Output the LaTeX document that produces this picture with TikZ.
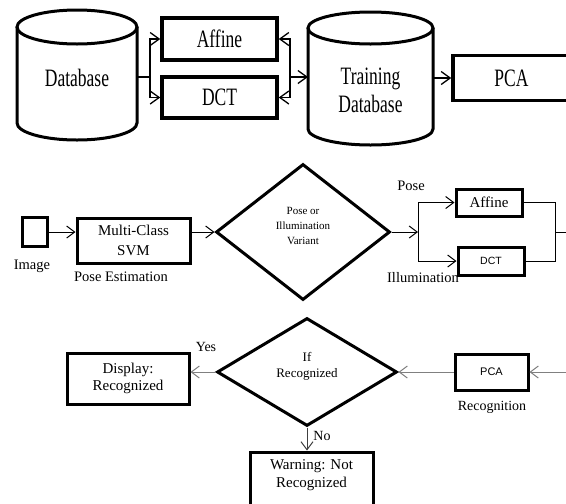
\documentclass[tikz,border=0pt]{standalone}
\usepackage{fontspec}
\setmainfont{Liberation Serif}
\newfontfamily\condf[FakeStretch=0.7]{Liberation Serif}
\newfontfamily\arialf{Liberation Sans}
\usetikzlibrary{arrows.meta,shapes.geometric}
\begin{document}
\begin{tikzpicture}[x=1pt,y=-1pt,
  bigtxt/.style={font=\condf\fontsize{25}{28}\selectfont, align=center, inner sep=0pt},
  bigbox/.style={draw, line width=3.5pt, inner sep=0pt, bigtxt},
  cyl/.style={line width=3pt},
  midbox/.style={draw, line width=3pt, inner sep=0pt, align=center, font=\fontsize{15}{20}\selectfont},
  dia/.style={draw, diamond, line width=3pt, inner sep=0pt},
  lbl/.style={inner sep=0pt, align=center, font=\fontsize{14.5}{17}\selectfont},
  plain/.style={line width=1pt},
  arr/.style={line width=1pt, -{Straight Barb[length=8pt,width=12pt]}},
  tarr/.style={line width=1.3pt, -{Straight Barb[length=9pt,width=13pt]}},
  garr/.style={line width=1pt, draw=black!50, -{Straight Barb[length=8pt,width=12pt]}},
]
\useasboundingbox[fill=white] (0,0) rectangle (566,504);

% ---------------- top row ----------------
\draw[cyl] (17,27) -- (17,123) arc[start angle=180,end angle=0,x radius=60,y radius=17] -- (137,27);
\draw[cyl] (77,27) ellipse[x radius=60,y radius=17];
\node[bigtxt] (db) at (77,78) {Database};
\coordinate (dbE) at (137,77);

\node[bigbox, minimum width=115pt, minimum height=42pt] (aff1) at (219.5,39) {Affine};
\node[bigbox, minimum width=115pt, minimum height=41pt] (dct1) at (219.5,97.5) {DCT};

\coordinate (fork1) at (150,77);
\draw[tarr] (dbE) -- (fork1) |- (aff1.west);
\draw[tarr] (fork1) |- (dct1.west);

\draw[cyl] (308,28) -- (308,129) arc[start angle=180,end angle=0,x radius=62.5,y radius=16] -- (433,28);
\draw[cyl] (370.5,28) ellipse[x radius=62.5,y radius=16];
\node[bigtxt] (tdb) at (370.5,90) {Training\\Database};
\coordinate (tdbW) at (308,77);
\coordinate (tdbE) at (433,78);

\coordinate (join1) at (290,77);
\draw[tarr] (join1) |- (aff1.east);
\draw[tarr] (join1) |- (dct1.east);
\draw[tarr] (join1) -- (tdbW);

\node[bigbox, minimum width=117pt, minimum height=45pt] (pca1) at (511.5,78) {PCA};
\draw[tarr] (tdbE) -- (pca1.west);

% ---------------- middle row ----------------
\node[draw, line width=3pt, minimum width=25pt, minimum height=29pt, inner sep=0pt] (img) at (34.5,232) {};
\node[lbl] (imglbl) at (32,266) {Image};
\node[midbox, minimum width=113pt, minimum height=45pt] (svm) at (133.5,240.5) {Multi-Class\\SVM};
\node[lbl] (poseest) at (121,277) {Pose Estimation};
\draw[arr] (img.east) -- (img.east -| svm.west);

\node[dia, minimum width=174pt, minimum height=136pt] (d1) at (303,232) {};
\node[inner sep=0pt, align=center, font=\fontsize{11}{15}\selectfont] (d1txt) at (303,226) {Pose or\\Illumination\\Variant};
\draw[arr] (svm.east |- d1.west) -- (d1.west);

\coordinate (fork2) at (418,232);
\node[midbox, minimum width=66pt, minimum height=27pt] (aff2) at (489,202.5) {Affine};
\node[midbox, minimum width=66pt, minimum height=28pt, font=\arialf\fontsize{10.5}{12}\selectfont] (dct2) at (491,261) {DCT};
\draw[arr] (d1.east) -- (fork2);
\draw[arr] (fork2) |- (aff2.west);
\draw[arr] (fork2) |- (dct2.west);
\node[lbl] (poselbl) at (411,186) {Pose};
\node[lbl] (illlbl) at (423,278) {Illumination};

\coordinate (join2) at (555,232);
\coordinate (out2) at (570,232);
\draw[plain] (aff2.east) -| (join2);
\draw[plain] (dct2.east) -| (join2);
\draw[plain] (join2) -- (out2);

% ---------------- bottom row ----------------
\coordinate (in3) at (570,372);
\node[midbox, minimum width=73pt, minimum height=36pt, font=\arialf\fontsize{11}{13}\selectfont] (pca2) at (491.5,372) {PCA};
\node[lbl, font=\fontsize{14}{17}\selectfont] (recog) at (492,407) {Recognition};
\draw[garr] (in3) -- (pca2.east);

\node[dia, minimum width=180pt, minimum height=108pt] (d2) at (307,372) {};
\node[inner sep=0pt, align=center, font=\fontsize{13}{16}\selectfont] (d2txt) at (307,366) {If\\Recognized};
\draw[garr] (pca2.west) -- (d2.east);

\node[midbox, minimum width=122pt, minimum height=51pt, font=\fontsize{15}{17}\selectfont] (disp) at (128,378.5) {Display:\\Recognized};
\draw[garr] (d2.west) -- (d2.west -| disp.east);
\node[lbl, font=\fontsize{14}{17}\selectfont] (yes) at (206,347) {Yes};

\node[draw, line width=3pt, minimum width=123pt, minimum height=68pt, inner sep=0pt] (warn) at (311.5,486) {};
\node[inner sep=0pt, align=center, font=\fontsize{15}{18}\selectfont] (warntxt) at (311.5,475) {Warning: Not\\Recognized};
\draw[arr, draw=black!75] (d2.south) -- (d2.south |- warn.north);
\node[lbl, font=\fontsize{14}{17}\selectfont] (no) at (322,436) {No};
\end{tikzpicture}
\end{document}
